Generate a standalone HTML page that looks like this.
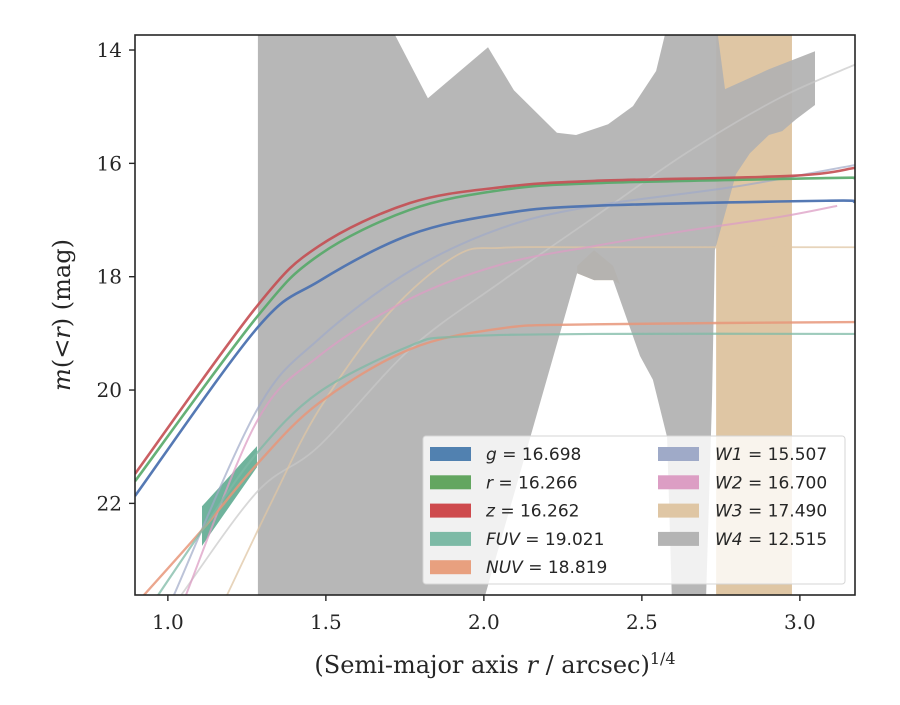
<!DOCTYPE html>
<html><head><meta charset="utf-8"><style>
body{margin:0;background:#fff}
svg text{font-family:"DejaVu Serif","Liberation Serif",serif;fill:#262626}
.leg{font-family:"DejaVu Sans","Liberation Sans",sans-serif;font-size:17px}
</style></head><body>
<svg id="chart" width="900" height="700" xmlns="http://www.w3.org/2000/svg">
<defs><clipPath id="pc"><rect x="135" y="35" width="720" height="560"/></clipPath></defs>
<rect width="900" height="700" fill="#fff"/>
<g id="plot" clip-path="url(#pc)"></g>
<g id="axes"></g>
</svg>
<script>
const xTicks=[1.0,1.5,2.0,2.5,3.0];
const yTicks=[14,16,18,20,22];
const W3bandX=[2.735,2.975];
const W3bumpX=[2.295,2.349,2.409,2.431,2.409,2.349,2.295];
const W3bumpM=[17.81,17.53,17.81,18.14,18.06,18.06,17.94];
const W4bandX=[1.285,1.697,1.823,2.013,2.095,2.231,2.292,2.393,2.472,2.545,2.583,2.735,2.763,2.902,3.048,3.048,2.988,2.944,2.902,2.842,2.798,2.731,2.722,2.703,2.595,2.580,2.535,2.494,2.409,2.349,2.295,2.000,1.285];
const W4bandM=[13.5,13.5,14.85,13.95,14.71,15.46,15.50,15.31,14.99,14.37,13.5,13.5,14.69,14.34,14.02,14.97,15.22,15.43,15.50,15.82,16.19,17.53,20.18,23.7,23.7,20.83,19.82,19.40,18.06,18.06,17.94,23.7,23.7];
const fuvBandX=[1.108,1.282,1.282,1.108];
const fuvBandM=[22.05,20.99,21.36,22.75];
const seriesNames=["W4","W3","W2","W1","NUV","FUV","g","r","z"];
const seriesColor={g:"#4c72b0",r:"#55a868",z:"#c44e52",FUV:"#7dbaa6",NUV:"#e8967a",W1:"#9faac8",W2:"#dc9ec4",W3:"#dfc6a4",W4:"#c8c8c8"};
const seriesX={
 z:[0.896,1.282,1.478,1.766,2.057,2.349,2.975,3.174],
 r:[0.896,1.282,1.478,1.766,2.057,2.349,3.083,3.174],
 g:[0.896,1.282,1.478,1.766,2.057,2.349,3.083,3.174],
 NUV:[0.924,1.114,1.282,1.478,1.766,2.057,2.349,3.174],
 FUV:[0.969,1.114,1.282,1.478,1.766,1.912,2.349,3.174],
 W1:[1.019,1.282,1.478,1.766,2.057,2.349,2.785,3.174],
 W2:[1.057,1.282,1.478,1.766,2.057,2.349,2.640,2.931,3.118],
 W3:[1.187,1.333,1.478,1.697,1.912,2.057,2.349,3.174],
 W4:[1.042,1.282,1.478,1.766,2.057,2.349,2.640,2.931,3.174]};
const seriesM={
 z:[21.48,18.52,17.46,16.70,16.42,16.31,16.22,16.08],
 r:[21.61,18.71,17.62,16.82,16.47,16.35,16.26,16.26],
 g:[21.87,18.91,18.08,17.26,16.89,16.75,16.66,16.68],
 NUV:[23.62,22.43,21.31,20.23,19.28,18.91,18.84,18.80],
 FUV:[23.62,22.43,21.11,20.04,19.22,19.06,19.01,19.01],
 W1:[23.62,20.35,19.10,17.90,17.14,16.75,16.42,16.03],
 W2:[23.62,20.55,19.40,18.39,17.78,17.46,17.19,16.95,16.75],
 W3:[23.62,21.92,20.35,18.66,17.63,17.49,17.48,17.48],
 W4:[23.62,21.80,20.99,19.28,18.08,16.95,15.82,14.86,14.26]};
const seriesW={g:2.6,r:2.6,z:2.6,FUV:2.2,NUV:2.4,W1:2,W2:2,W3:1.8,W4:1.8};
const seriesOp={g:0.95,r:0.9,z:0.9,FUV:0.75,NUV:0.85,W1:0.7,W2:0.75,W3:0.75,W4:0.7};
const legendLabels=[["g","16.698"],["r","16.266"],["z","16.262"],["FUV","19.021"],["NUV","18.819"],["W1","15.507"],["W2","16.700"],["W3","17.490"],["W4","12.515"]];
const legendColors=["#5181b0","#63a660","#ce4a4d","#7dbaa6","#e8a07f","#9faac8","#dc9ec4","#dfc6a4","#b4b4b4"];

const NS="http://www.w3.org/2000/svg";
const X=v=>135+(v-0.896)*316;
const Y=m=>35+(m-13.735)*56.67;
function mk(tag,attrs,parent){const e=document.createElementNS(NS,tag);for(const k in attrs)e.setAttribute(k,attrs[k]);parent.appendChild(e);return e;}
const plot=document.getElementById('plot'),axes=document.getElementById('axes');
function poly(xs,ms){return xs.map((x,i)=>X(x).toFixed(1)+','+Y(ms[i]).toFixed(1)).join(' ');}

let e=mk('rect',{x:X(W3bandX[0]),y:0,width:X(W3bandX[1])-X(W3bandX[0]),height:700,fill:"#dfc6a4"},plot);


e=mk('polygon',{points:poly(W3bumpX,W3bumpM),fill:"#dcc3a0"},plot);


e=mk('polygon',{points:poly(W4bandX,W4bandM),fill:"#b2b2b2",'fill-opacity':0.93},plot);


e=mk('polygon',{points:poly(fuvBandX,fuvBandM),fill:"#6fb39c"},plot);



function smooth(xs,ms){const p=xs.map((x,i)=>[X(x),Y(ms[i])]);let d='M'+p[0][0]+','+p[0][1];
 for(let i=0;i<p.length-1;i++){const p0=p[i-1]||p[i],p1=p[i],p2=p[i+1],p3=p[i+2]||p2;
  d+=' C'+(p1[0]+(p2[0]-p0[0])/6)+','+(p1[1]+(p2[1]-p0[1])/6)+' '+(p2[0]-(p3[0]-p1[0])/6)+','+(p2[1]-(p3[1]-p1[1])/6)+' '+p2[0]+','+p2[1];}
 return d;}
seriesNames.forEach(n=>{
 const l=mk('path',{d:smooth(seriesX[n],seriesM[n]),fill:'none',stroke:seriesColor[n],'stroke-width':seriesW[n],'stroke-opacity':seriesOp[n]},plot);
 
 
});

mk('rect',{x:135,y:35,width:720,height:560,fill:'none',stroke:'#262626','stroke-width':1.6},axes);
xTicks.forEach(t=>{
 mk('line',{x1:X(t),x2:X(t),y1:595,y2:601,stroke:'#262626','stroke-width':1.4},axes);
 const tx=mk('text',{x:X(t),y:629,'text-anchor':'middle','font-size':20},axes);tx.textContent=t.toFixed(1);
 
 
});
yTicks.forEach(t=>{
 mk('line',{x1:129,x2:135,y1:Y(t),y2:Y(t),stroke:'#262626','stroke-width':1.4},axes);
 const tx=mk('text',{x:122,y:Y(t)+7,'text-anchor':'end','font-size':20},axes);tx.textContent=t;
 
 
});
let xl=mk('text',{x:495,y:673,'text-anchor':'middle','font-size':24},axes);
xl.innerHTML='(Semi-major axis <tspan font-style="italic">r</tspan> / arcsec)<tspan dy="-9" font-size="16">1/4</tspan>';


let yl=mk('text',{x:0,y:0,'text-anchor':'middle','font-size':24,transform:'translate(70,315) rotate(-90)'},axes);
yl.innerHTML='<tspan font-style="italic">m</tspan>(&lt;<tspan font-style="italic">r</tspan>) (mag)';



const lg=mk('g',{},axes);


mk('rect',{x:423,y:436,width:422,height:148,rx:3,fill:'#fff','fill-opacity':0.8,stroke:'#d6d6d6','stroke-width':1},lg);
legendLabels.forEach((lab,i)=>{
 const col=i<5?0:1,row=i<5?i:i-5;
 const px=col?658:430,tx=col?715:486,cy=454+row*28.3;
 const r=mk('rect',{x:px,y:cy-7,width:41,height:14,fill:legendColors[i]},lg);
 
 
 const t=mk('text',{x:tx,y:cy+6,class:'leg'},lg);
 t.innerHTML='<tspan font-style="italic">'+lab[0]+'</tspan> = '+lab[1];
 
 
});
</script>
</body></html>
